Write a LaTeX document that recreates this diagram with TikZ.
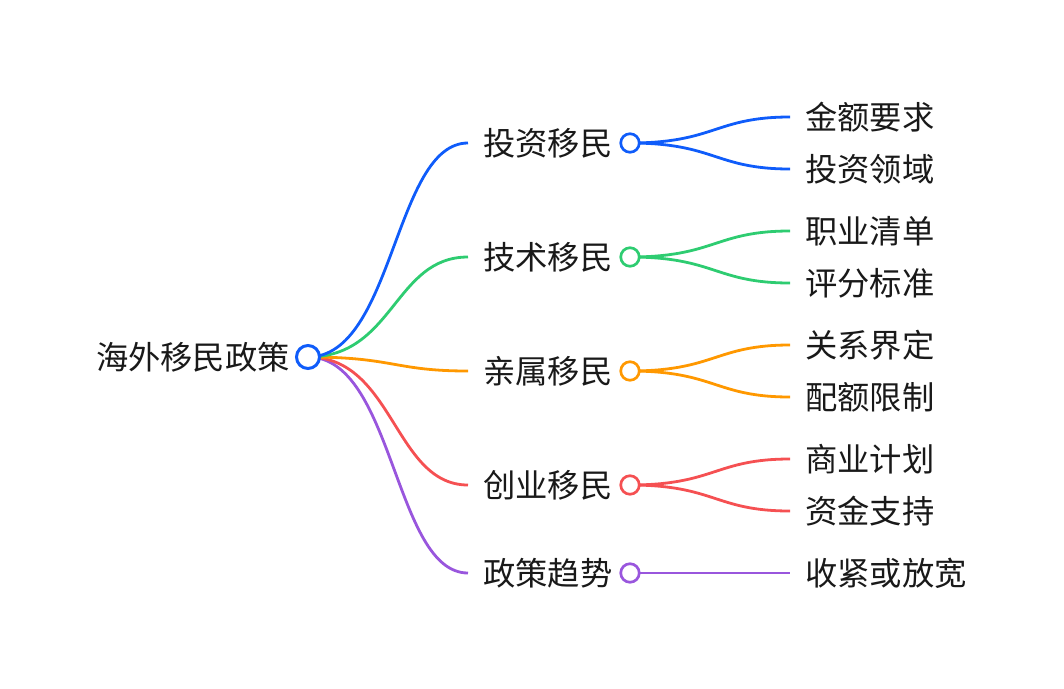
\documentclass[tikz,border=0pt]{standalone}
\usepackage{fontspec}
\setmainfont{Noto Sans CJK SC}
\definecolor{cblue}{RGB}{15,92,250}
\definecolor{cgreen}{RGB}{46,204,113}
\definecolor{corange}{RGB}{255,152,0}
\definecolor{cred}{RGB}{245,80,82}
\definecolor{cpurple}{RGB}{153,86,221}
\definecolor{ctext}{RGB}{25,25,25}
\begin{document}
\begin{tikzpicture}[x=1pt,y=-1pt,
  lbl/.style={inner sep=0pt,text=ctext,font=\fontsize{32.3}{38}\selectfont},
  dot/.style={circle,draw=#1,line width=2.7pt,fill=white,minimum size=18.5pt,inner sep=0pt},
  rootdot/.style={circle,draw=cblue,line width=3pt,fill=white,minimum size=23pt,inner sep=0pt},
  link/.style={line width=2.8pt,draw=#1}]
\useasboundingbox (0,0) rectangle (1064,688);
% root
\node[lbl,anchor=east] (rt) at (290,357) {海外移民政策};
% branch texts
\node[lbl,anchor=west] (b1) at (483,143) {投资移民};
\node[lbl,anchor=west] (b2) at (483,257) {技术移民};
\node[lbl,anchor=west] (b3) at (483,371) {亲属移民};
\node[lbl,anchor=west] (b4) at (483,485) {创业移民};
\node[lbl,anchor=west] (b5) at (483,573) {政策趋势};
% coordinates at branch line ends
\coordinate (e1) at (468,143);
\coordinate (e2) at (468,257);
\coordinate (e3) at (468,371);
\coordinate (e4) at (468,485);
\coordinate (e5) at (468,573);
% leaf texts
\node[lbl,anchor=west] (l11) at (805,117) {金额要求};
\node[lbl,anchor=west] (l12) at (805,169) {投资领域};
\node[lbl,anchor=west] (l21) at (805,231) {职业清单};
\node[lbl,anchor=west] (l22) at (805,283) {评分标准};
\node[lbl,anchor=west] (l31) at (805,345) {关系界定};
\node[lbl,anchor=west] (l32) at (805,397) {配额限制};
\node[lbl,anchor=west] (l41) at (805,459) {商业计划};
\node[lbl,anchor=west] (l42) at (805,511) {资金支持};
\node[lbl,anchor=west] (l51) at (805,573) {收紧或放宽};
\coordinate (f11) at (790,117);
\coordinate (f12) at (790,169);
\coordinate (f21) at (790,231);
\coordinate (f22) at (790,283);
\coordinate (f31) at (790,345);
\coordinate (f32) at (790,397);
\coordinate (f41) at (790,459);
\coordinate (f42) at (790,511);
\coordinate (f51) at (790,573);
% dot positions
\coordinate (p0) at (308,357);
\coordinate (p1) at (630,143);
\coordinate (p2) at (630,257);
\coordinate (p3) at (630,371);
\coordinate (p4) at (630,485);
\coordinate (p5) at (630,573);
% root links
\draw[link=cpurple] (p0) .. controls +(86,0) and +(-74,0) .. (e5);
\draw[link=cred] (p0) .. controls +(86,0) and +(-74,0) .. (e4);
\draw[link=corange] (p0) .. controls +(86,0) and +(-74,0) .. (e3);
\draw[link=cgreen] (p0) .. controls +(86,0) and +(-74,0) .. (e2);
\draw[link=cblue] (p0) .. controls +(86,0) and +(-74,0) .. (e1);
% leaf links
\draw[link=cblue] (p1) .. controls +(85,0) and +(-75,0) .. (f11);
\draw[link=cblue] (p1) .. controls +(85,0) and +(-75,0) .. (f12);
\draw[link=cgreen] (p2) .. controls +(85,0) and +(-75,0) .. (f21);
\draw[link=cgreen] (p2) .. controls +(85,0) and +(-75,0) .. (f22);
\draw[link=corange] (p3) .. controls +(85,0) and +(-75,0) .. (f31);
\draw[link=corange] (p3) .. controls +(85,0) and +(-75,0) .. (f32);
\draw[link=cred] (p4) .. controls +(85,0) and +(-75,0) .. (f41);
\draw[link=cred] (p4) .. controls +(85,0) and +(-75,0) .. (f42);
\draw[link=cpurple] (p5) -- (f51);
% dots on top
\node[rootdot] (r) at (p0) {};
\node[dot=cblue] (c1) at (p1) {};
\node[dot=cgreen] (c2) at (p2) {};
\node[dot=corange] (c3) at (p3) {};
\node[dot=cred] (c4) at (p4) {};
\node[dot=cpurple] (c5) at (p5) {};
\end{tikzpicture}
\end{document}
